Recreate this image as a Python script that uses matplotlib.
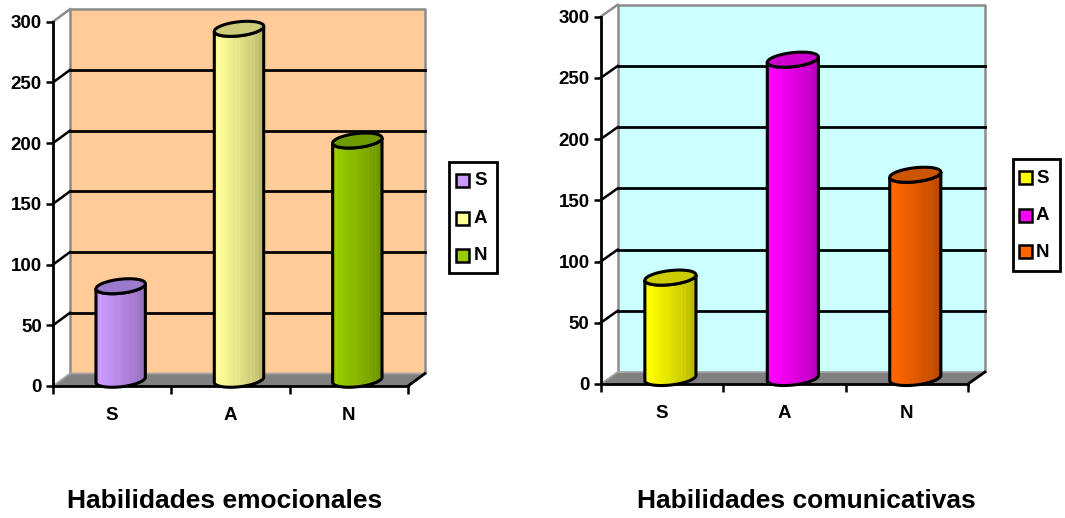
import numpy as np
import matplotlib
matplotlib.use("Agg")
import matplotlib.pyplot as plt
from matplotlib.patches import Polygon, Rectangle
from matplotlib.colors import to_rgb

W, H = 1065, 518

categories = ["S", "A", "N"]
y_ticks = [0, 50, 100, 150, 200, 250, 300]

emocionales = [77, 289, 197]
comunicativas = [82, 260, 166]

emo_colors = ["#CC99FF", "#FFFF99", "#99CC00"]
emo_tops = ["#9A7ACC", "#CCCC7A", "#6E9900"]
com_colors = ["#FFFF00", "#FF00FF", "#FF6600"]
com_tops = ["#CCCC00", "#CC00CC", "#CC5500"]

LABEL_FONT = ["Liberation Sans", "DejaVu Sans"]
TITLE_FONT = ["Liberation Sans", "DejaVu Sans"]

fig = plt.figure(figsize=(W / 100, H / 100), dpi=100)


def fig_xy(x, y):
    """Pixel position (origin top-left) to figure fraction."""
    return x / W, 1 - y / H


def ellipse_pts(a, b, phi, n=360):
    th = np.linspace(0, 2 * np.pi, n, endpoint=False)
    ex = a * np.cos(th) * np.cos(phi) - b * np.sin(th) * np.sin(phi)
    ey = a * np.cos(th) * np.sin(phi) + b * np.sin(th) * np.cos(phi)
    return ex, ey


def lower_arc(ex, ey):
    n = len(ex)
    i_min, i_max = int(np.argmin(ex)), int(np.argmax(ex))

    def arc(i0, i1):
        if i1 >= i0:
            return np.arange(i0, i1 + 1)
        return np.r_[np.arange(i0, n), np.arange(0, i1 + 1)]

    a1 = arc(i_min, i_max)
    a2 = arc(i_max, i_min)[::-1]
    return a1 if ey[a1].mean() < ey[a2].mean() else a2


def panel(front, depth, values, colors, tops, wall, title, title_x, legend):
    xl, y0, xr, y300 = front
    dxp, dyp = depth
    ax = fig.add_axes([xl / W, 1 - y0 / H, (xr - xl) / W, (y0 - y300) / H])
    n = len(categories)
    ymax = y_ticks[-1]
    sx = (xr - xl) / n
    sy = (y0 - y300) / ymax
    ddx, ddy = dxp / sx, dyp / sy
    ax.set_facecolor("none")

    # back wall and floor
    ax.add_patch(Polygon([(ddx, ddy), (n + ddx, ddy), (n + ddx, ymax + ddy), (ddx, ymax + ddy)],
                         closed=True, facecolor=wall, edgecolor="none", zorder=0, clip_on=False))
    ax.add_patch(Polygon([(0, 0), (n, 0), (n + ddx, ddy), (ddx, ddy)], closed=True,
                         facecolor="#808080", edgecolor="none", zorder=0.5, clip_on=False))
    ax.plot([ddx, ddx, n + ddx, n + ddx], [ddy, ymax + ddy, ymax + ddy, ddy],
            color="#8C8C8C", lw=1.8, zorder=1, clip_on=False, solid_capstyle="butt")
    ax.plot([0, ddx, n + ddx], [0, ddy, ddy], color="#A6A6A6", lw=1.3, zorder=1, clip_on=False)
    for v in y_ticks[1:-1]:
        ax.plot([ddx, n + ddx], [v + ddy, v + ddy], color="black", lw=2.0, zorder=1.2, clip_on=False)
    for v in y_ticks[1:]:
        ax.plot([0, ddx], [v, v + ddy], color="black" if v < ymax else "#8C8C8C",
                lw=1.8, zorder=1.2, clip_on=False)
    ax.plot([n, n + ddx], [0, ddy], color="black", lw=2.0, zorder=2.6, clip_on=False)

    # cylinders
    a = 0.21 * sx
    b = 7.0
    phi = np.deg2rad(6.5)
    ex, ey = ellipse_pts(a, b, phi)
    low = lower_arc(ex, ey)
    t = np.linspace(0, 1, 240)
    shade = np.interp(t, [0, 0.12, 0.35, 0.7, 1.0], [0.95, 1.0, 0.93, 0.82, 0.7])
    stripes = np.ones_like(t)
    for s0 in (0.1, 0.45, 0.5, 0.72, 0.78, 0.84):
        stripes[np.abs(t - s0) < 0.006] = 1.07
    for i, (v, c, tc) in enumerate(zip(values, colors, tops)):
        cx = i + 0.5 + ddx / 2
        cb = ddy / 2
        ct = v + ddy / 2
        bx = cx + ex[low] / sx
        by = cb + ey[low] / sy
        tx = cx + ex[low][::-1] / sx
        ty = ct + ey[low][::-1] / sy
        body = np.column_stack([np.r_[bx, tx], np.r_[by, ty]])
        clip = Polygon(body, closed=True, facecolor="none", edgecolor="none",
                       transform=ax.transData)
        ax.add_patch(clip)
        rgb = np.clip(np.array(to_rgb(c))[None, :] * (shade * stripes)[:, None], 0, 1)
        im = ax.imshow(rgb[None, :, :], extent=[cx - a / sx * 1.05, cx + a / sx * 1.05,
                                                cb - 2 * b / sy, ct + 2 * b / sy],
                       aspect="auto", interpolation="bilinear", zorder=2.9)
        im.set_clip_path(clip)
        ax.add_patch(Polygon(body, closed=True, facecolor="none", edgecolor="black",
                             lw=2.2, zorder=3, clip_on=False))
        ax.add_patch(Polygon(np.column_stack([cx + ex / sx, ct + ey / sy]), closed=True,
                             facecolor=tc, edgecolor="black", lw=2.2, zorder=3.1, clip_on=False))

    ax.set_xlim(0, n)
    ax.set_ylim(0, ymax)

    # axes
    for side in ("top", "right"):
        ax.spines[side].set_visible(False)
    for side in ("left", "bottom"):
        ax.spines[side].set_linewidth(2.0)
        ax.spines[side].set_color("black")
    ax.set_yticks(y_ticks)
    ax.set_yticklabels([str(v) for v in y_ticks], fontsize=13.5, fontweight="bold",
                       family=LABEL_FONT)
    ax.tick_params(axis="y", direction="out", length=5, width=1.8, pad=3)
    ax.set_xticks(range(n + 1))
    ax.set_xticklabels([""] * (n + 1))
    ax.tick_params(axis="x", which="major", direction="out", length=6, width=1.8)
    ax.set_xticks([i + 0.5 for i in range(n)], minor=True)
    ax.set_xticklabels(categories, minor=True, fontsize=13.5, fontweight="bold", family=LABEL_FONT)
    ax.tick_params(axis="x", which="minor", length=0, pad=15)

    # legend
    bx0, by0, bx1, by1, sq_x, txt_x, rows = legend
    x, y = fig_xy(bx0, by1)
    fig.add_artist(Rectangle((x, y), (bx1 - bx0) / W, (by1 - by0) / H, transform=fig.transFigure,
                             facecolor="white", edgecolor="black", lw=2.0))
    sq = 13
    for lab, c, ry in zip(categories, colors, rows):
        x, y = fig_xy(sq_x, ry + sq / 2)
        fig.add_artist(Rectangle((x, y), sq / W, sq / H, transform=fig.transFigure,
                                 facecolor=c, edgecolor="black", lw=1.8))
        x, y = fig_xy(txt_x, ry + 0.5)
        fig.text(x, y, lab, ha="left", va="center", fontsize=13.5, fontweight="bold",
                 family=LABEL_FONT)

    x, y = fig_xy(title_x, 501)
    fig.text(x, y, title, ha="center", va="center", fontsize=19, fontweight="bold",
             family=TITLE_FONT)


panel((53, 386, 408, 21.7), (17, 12.5), emocionales, emo_colors, emo_tops, "#FFCC99",
      "Habilidades emocionales", 225,
      (449, 162, 497, 273, 456, 474, (180, 218.5, 255.5)))
panel((600.7, 384, 968, 16.7), (17, 12), comunicativas, com_colors, com_tops, "#CCFFFF",
      "Habilidades comunicativas", 806.5,
      (1013, 159, 1060, 271, 1019, 1036, (177.7, 215, 251.7)))

fig.savefig("out.png", dpi=100, facecolor="white")
